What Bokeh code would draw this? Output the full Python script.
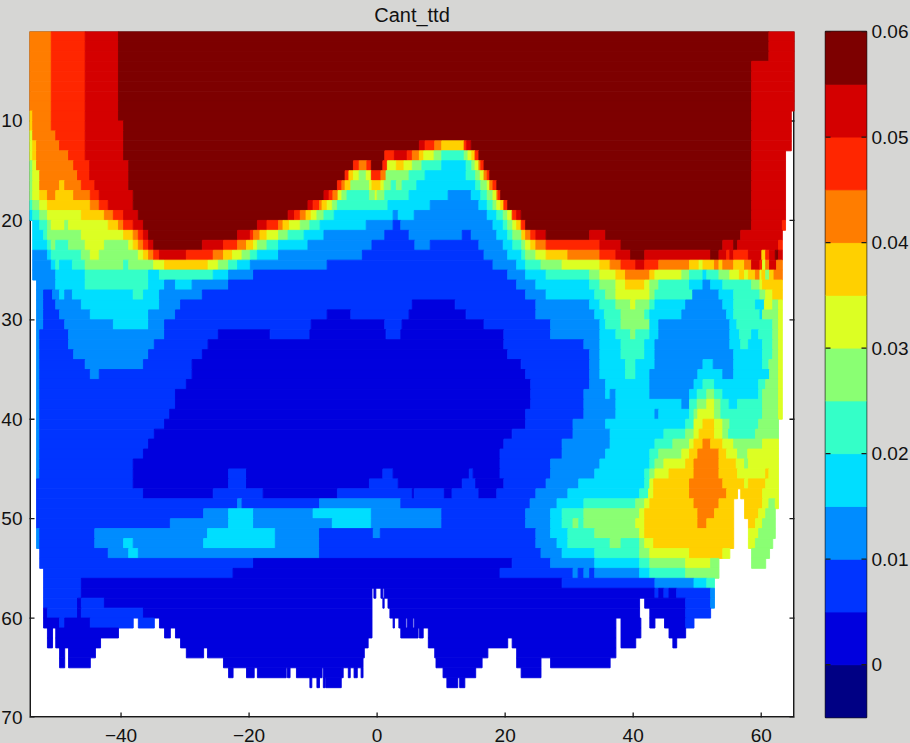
import math
from bokeh.embed import file_html
from bokeh.resources import INLINE
from bokeh.models import ColumnDataSource, Range1d, LinearAxis, FixedTicker
from bokeh.layouts import row
from bokeh.plotting import figure

title_text = "Cant_ttd"
x_ticks = [-40, -20, 0, 20, 40, 60]
y_ticks = [10, 20, 30, 40, 50, 60, 70]
cbar_ticks = [0, 0.01, 0.02, 0.03, 0.04, 0.05, 0.06]
cbar_labels = ["0", "0.01", "0.02", "0.03", "0.04", "0.05", "0.06"]
# colour classes, each 0.005 wide, from -0.005 to 0.06
class_floor = [-0.005, 0.0, 0.005, 0.01, 0.015, 0.02, 0.025, 0.03, 0.035, 0.04, 0.045, 0.05, 0.055]
class_colors = ["#000084", "#0000DE", "#0034FF", "#008CFF", "#00DEFF", "#34FFC8", "#8AFF73",
                "#DCFF23", "#FFD000", "#FF7D00", "#FF2600", "#D40000", "#7D0000"]

# One string per depth level 1..69, "class:east longitude" going eastwards; class 0 here means no data.
top_rows = [
    "9:-50.9 10:-45.6 11:-40.4 12:61.2 11:65.2",
    "9:-50.9 10:-45.6 11:-40.4 12:61.2 11:65.2",
    "9:-50.9 10:-45.6 11:-40.4 12:61.2 11:65.2",
    "9:-50.9 10:-45.6 11:-40.4 12:58.5 11:65.2",
    "9:-50.9 10:-45.6 11:-40.4 12:58.5 11:65.2",
    "9:-50.9 10:-45.6 11:-40.4 12:58.5 11:65.2",
    "9:-50.9 10:-45.6 11:-40.4 12:58.5 11:65.2",
    "9:-50.9 10:-45.6 11:-40.4 12:58.5 11:65.2",
    "8:-53.8 9:-50.9 10:-45.6 11:-40.4 12:58.5 11:64.7",
    "8:-53.8 9:-50.9 10:-45.6 11:-39.6 12:58.5 11:64.7",
    "7:-53.8 9:-50.2 10:-45.6 11:-39.6 12:58.5 11:64.7",
    "7:-53.8 8:-53.2 9:-49.6 10:-45.6 11:-39.6 12:6.6 11:7.5 10:9 9:10.1 8:13.6 10:14 11:14.7 12:58.5 11:64.7",
    "7:-53.8 8:-53.2 9:-48.2 10:-45.6 11:-39.6 12:1.2 10:2.7 11:4.7 10:5.5 9:6.6 8:7.3 7:8.9 6:10.1 5:13.6 6:14.2 7:14.8 8:15.3 10:15.9 12:58.5 11:63.8",
    "6:-53.8 7:-53.2 9:-47.4 10:-44.9 11:-38.8 12:-3.7 10:-2.8 9:-1.6 10:-0.9 12:0.9 10:1.6 7:3 8:4.2 7:5.5 6:7 5:10.1 4:13.9 5:14.8 6:15.3 7:15.9 9:16.2 10:16.7 12:58.5 11:63.8",
    "6:-53.8 7:-52.7 9:-46.8 10:-44.9 11:-38.8 12:-5 10:-4.4 8:-3.7 7:-2.8 6:-1.7 7:-0.9 10:0.6 9:1.4 6:5 5:7.5 4:13.9 5:15.4 6:16.1 7:16.7 9:17.2 10:17.6 12:58.5 11:63.8",
    "6:-53.8 7:-52.7 9:-49.6 8:-48.8 9:-46.2 10:-44.1 11:-38.8 12:-6.2 10:-5.5 9:-5 8:-4.1 6:-1.2 7:-0.8 8:0.6 7:1.1 6:2.2 5:3 6:3.9 5:6.2 4:15.4 5:16.2 6:17.2 7:17.6 9:18.1 10:18.7 12:58.5 11:63.8",
    "6:-53.8 7:-52.7 8:-51.5 9:-50.2 8:-47.4 9:-44.8 10:-43.4 11:-38.1 12:-8.3 11:-7.5 10:-6.9 9:-6.1 7:-5.5 6:-4.7 5:-1.2 6:-0.3 7:0 6:1.2 5:5 4:11.1 3:14.7 4:16.2 5:17.2 6:18.1 7:18.7 9:18.9 10:19.3 12:58.5 11:63.8",
    "5:-53.8 6:-52.7 7:-51.5 8:-44.8 9:-43.4 10:-42 11:-38.1 12:-10.8 11:-10 10:-9 9:-8.6 8:-7.8 7:-7 6:-6.2 5:1.7 4:8.3 3:15.9 4:17.2 5:18.1 6:18.7 7:19.3 8:19.8 10:20.4 12:58.5 11:63.8",
    "4:-53.8 5:-52.7 6:-51.5 7:-46.2 8:-42.6 9:-41.2 10:-39.6 11:-37.3 12:-13.9 11:-12.9 10:-12 9:-11.1 8:-10.3 7:-9.4 6:-8.3 5:-6.7 4:2.5 3:3.3 4:5.8 3:17.2 4:18.7 5:19.7 6:20.4 7:21.1 10:21.8 11:22.5 12:58.5 11:63.8",
    "0:-53.8 4:-52.7 5:-51.5 6:-50.9 7:-48.8 6:-48.2 7:-42 8:-40.4 9:-39.6 10:-38.1 11:-36.5 12:-18.7 11:-17.2 10:-15.4 9:-14.7 8:-13.7 7:-12 6:-10.5 5:-8.9 4:-1.7 3:2.5 2:3.7 3:18.1 4:19.7 5:20.4 6:21.2 7:21.8 8:22.5 10:23.2 12:58.5 11:63.3 10:63.8",
    "0:-53.8 4:-52.1 5:-51.5 6:-46.2 7:-39.6 8:-38.1 9:-37.3 10:-36.5 11:-35.7 12:-21.8 11:-19.8 10:-19.3 9:-18.3 8:-17.2 7:-15.4 6:-13.9 5:-11.4 4:-8.3 3:1.2 2:5 3:13.3 2:14.7 3:18.7 4:20.4 5:21.2 6:22.6 8:23.2 9:24 10:24.8 11:26.4 12:33.2 11:35.7 12:56.8 11:63.3",
    "0:-53.8 4:-51.5 5:-50.9 6:-50.2 5:-48.2 6:-45.6 7:-42.6 6:-38.8 7:-38.1 8:-37.3 9:-36.5 10:-35.7 11:-34.9 12:-27.3 11:-24 10:-21.8 9:-20.4 8:-19.3 7:-18.7 6:-17.2 5:-15.4 4:-10.8 3:-0.8 2:5.9 3:8.3 2:15.9 3:19.7 4:21.2 5:22.6 6:23.2 7:24 8:24.8 9:26.4 10:34.8 11:38.1 12:54 11:55.7 12:56.3 11:62.7 10:63.3",
]
mid_rows = [
    "0:-53.8 3:-51.5 4:-50.9 5:-46.2 6:-44.8 7:-43.4 6:-37.3 7:-36.5 8:-35.7 9:-34.9 10:-34 11:-29.8 10:-25.6 9:-24 8:-22.6 7:-21.1 6:-19.8 5:-18.7 4:-15.4 3:-2.3 2:16.7 3:20.4 4:22.6 5:23.2 6:24.8 7:26.4 8:29.8 9:34.8 10:37.3 11:39.6 12:41.8 11:52.1 12:53.4 11:54.6 10:55.1 11:55.7 10:58 11:60.1 8:60.7 10:61.3 11:62.2 12:62.7 11:63.3",
    "0:-53.8 3:-50.9 4:-50.2 5:-49.6 4:-47.6 5:-45.6 6:-39.6 5:-38.8 6:-34.9 7:-33.2 8:-26.4 7:-24.8 6:-23.2 5:-21.8 4:-19.8 3:-7.8 2:18.1 3:21.8 4:23.2 5:25.6 6:28.9 7:34.8 8:36.4 9:38.1 10:40.4 11:41.8 10:44 9:48.8 8:50.3 7:50.9 8:52.7 9:53.4 8:54 9:55.7 8:57.4 9:58.5 11:59.8 10:60.2 7:60.7 9:61.3 11:62.4 9:63.3",
    "0:-53.8 3:-50.2 4:-45.6 5:-35.7 4:-34 5:-25.6 4:-23.2 3:-19.3 2:20.4 3:23.2 4:26.4 5:33.2 6:34.8 7:37.3 8:38.8 9:42.6 8:43.4 7:47.6 6:48.8 5:50.9 4:51.5 5:53.4 6:55.1 7:56.6 8:57.4 7:58 8:59.1 9:59.8 7:60.1 8:60.7 6:61.3 8:62 9:63.3",
    "0:-53.2 3:-50.2 4:-45.6 5:-35.7 4:-33.2 3:-31.5 4:-28.9 3:-23.2 2:21.8 3:24.8 4:33.2 5:34.8 6:37.3 7:38.8 8:41.8 7:42.6 6:44 5:48.8 4:50.9 3:52.1 4:54 5:58.5 6:59.8 7:60.2 8:63.3",
    "0:-53.2 3:-52.1 2:-50.7 3:-49.6 4:-48.8 3:-47.6 4:-38.1 5:-36.5 4:-34 3:-27.3 2:23.2 3:26.4 4:34 5:35.7 6:37.3 7:42.6 6:43.4 5:49.3 3:53.4 4:55.7 5:59.8 6:60.7 7:61.8 8:63.3",
    "0:-53.2 3:-52.1 2:-50.2 3:-46.2 4:-34 3:-30.7 2:5.5 1:12.2 2:24.8 3:33.2 4:34.8 5:37.3 6:39.6 7:40.4 6:42.6 5:43.4 4:48.2 3:54 4:55.7 5:59.1 4:60.5 7:61.8 6:62.7 7:63.3",
    "0:-53.2 3:-52.1 2:-49.6 3:-44.8 4:-35.7 3:-31.5 2:-7.8 1:-4.1 2:5 1:13.9 2:24.8 3:34 4:35.5 5:38.1 6:41.8 5:42.6 4:47.6 3:54.6 4:55.7 5:59.8 4:60.2 6:62.7 7:63.3",
    "0:-53.2 3:-52.1 2:-48.8 3:-41.2 4:-35.7 3:-33.2 2:-10.3 1:1.2 2:3.9 1:16.7 2:27.1 3:34.8 4:35.7 5:38.1 6:42.6 4:44 3:55.1 4:56.2 5:61.8 6:62.7 7:63.3",
    "0:-53.2 3:-52.7 2:-48.2 3:-33.2 2:-24.8 1:-16.7 2:-10.5 1:1.4 2:3.7 1:19.8 2:27.1 3:34.8 4:37.3 5:39.6 6:40.4 5:42.6 4:44 3:55.1 4:56.6 5:58.5 4:59.6 5:61.8 6:62.7 7:63.3",
    "0:-53.2 3:-52.7 2:-48.2 3:-34.8 2:-26.4 1:19.8 2:32.3 3:34.8 4:38.1 5:41.8 4:43.4 3:55.1 4:56.8 5:58 4:60.2 5:61.8 6:62.7 7:63.3",
    "0:-53.2 3:-52.7 2:-47.4 3:-35.7 2:-27.3 1:20.4 2:33.2 3:34.8 4:38.1 5:41.8 4:43.4 3:55.7 4:60.2 5:61.8 6:62.7 7:63.3",
    "0:-53.2 3:-52.7 2:-45.6 3:-36.5 2:-28.9 1:22.5 2:33.2 3:34.8 4:38.8 5:40.4 4:43.4 3:50.9 4:52.5 3:55.7 4:60.2 5:61.2 6:62.7 7:63.3",
    "0:-53.2 3:-52.7 2:-44.8 3:-43.4 2:-28.9 1:23.2 2:33.2 3:34.8 4:38.8 5:40.4 4:42.6 3:50.1 4:54 3:55.7 4:61.3 6:62.7 7:63.3",
    "0:-53.2 3:-52.7 2:-29.8 1:24 2:33.2 3:35.7 4:42.6 3:49.5 4:50.9 5:52.7 4:59.6 5:60.7 6:62.7 7:63.3",
    "0:-53.2 3:-52.7 2:-31.5 1:24 2:32.3 3:35.7 4:36.4 3:37.3 4:42.6 3:48.8 4:50 5:51.5 6:52.7 5:54 4:59.6 5:60.2 6:62.7 7:63.3",
    "0:-53.2 3:-52.7 2:-31.5 1:24 2:32.3 3:37.3 4:47.6 3:48.8 5:50 6:51.5 7:52.7 6:53.7 5:55 4:56.3 5:60.2 6:62.7 7:63.3",
    "0:-53.2 3:-52.7 2:-32.4 1:23.2 2:32.3 3:37.3 4:43.4 3:44 4:48.8 5:49.5 6:50.1 7:52.7 6:53.7 5:60.2 6:62.7 7:63.3",
    "0:-53.2 3:-52.7 2:-33.2 1:23.2 2:30.6 3:35.7 4:48.2 5:49.5 7:50.9 8:52.7 7:54 6:55.1 5:59.6 6:62.7",
    "0:-53.2 3:-52.7 2:-34.8 1:21.1 2:30.6 3:36.4 4:44.8 5:48.2 6:49.5 7:50.3 8:52.7 7:54 6:54.9 5:59.1 6:62.7",
    "0:-53.2 3:-52.7 2:-35.7 1:19.8 2:28.9 3:36.4 4:43.4 5:46.2 6:48.8 7:49.5 8:50.9 9:52.1 8:54 7:55.7 6:60.2 7:62.7",
    "0:-53.2 3:-52.7 2:-36.5 1:19.2 2:28.9 3:35.7 4:42.6 5:44 6:47.6 7:48.8 8:50.1 9:53.4 8:54.6 7:56.3 6:57.9 7:62.7",
    "0:-53.2 3:-52.7 2:-38.1 1:19.2 2:27.1 3:34.8 4:42.6 5:43.4 6:44.8 7:48.2 8:49.5 9:53.4 8:56.1 7:57.4 6:58 7:62.7",
    "0:-53.2 3:-52.7 2:-38.1 1:-23.2 2:-20.4 1:0.9 2:2.5 1:14.4 2:15 1:19.2 2:27.1 3:34 4:41.8 5:42.6 6:43.4 7:45.6 8:49.5 9:53.4 8:56.3 7:60.7 8:61.2 7:62.7",
]
low_rows = [
    "0:-53.2 2:-38.1 1:-23.2 2:-20.4 1:-1.2 2:3.3 1:13.3 2:15.4 1:19.8 2:26.4 3:31.5 4:41.8 5:42.6 7:43.2 8:48.8 9:54 8:57.4 7:58 8:60.7 7:62.7",
    "0:-53.2 2:-36.5 1:-25.6 2:-17.8 1:-6.2 2:5.5 1:5.8 2:10.5 1:11.7 2:15.9 1:18.7 2:24.8 3:29.8 4:41 5:42.4 7:43.2 8:48.8 9:54.6 8:56.3 0:56.8 8:60.2 7:62.7",
    "0:-53.2 2:-21.8 3:-21.1 2:-9 3:3.7 2:23.9 3:28.1 4:32.3 5:40.4 6:41.8 7:42.6 8:49.5 9:53.4 8:55.7 0:57.4 8:60.2 7:61.2 6:62.2 7:62.7",
    "0:-53.2 2:-27.1 3:-23.2 4:-19.3 3:-10 4:-0.9 3:10.1 2:23.2 3:27.1 4:28.9 5:32.3 6:41 7:41.8 8:50.1 9:52.7 8:55.7 0:57.4 8:59.6 7:60.7 6:62.2",
    "0:-53.2 2:-32.3 3:-23.2 4:-19.3 3:-7 4:-0.9 3:10.1 2:23.2 3:27.1 4:28.9 5:30.6 6:31.5 5:32.3 6:40.4 7:41.8 8:50.1 9:51.5 8:55.7 0:58 8:59.1 7:60.2 6:62.2",
    "0:-53.2 3:-52.7 2:-44.1 3:-26.5 4:-15.9 3:-9 2:-0.6 3:0.5 2:24.8 3:27.1 4:29.8 5:34 6:41 7:41.8 8:55.7 0:58 7:59.6 6:62.2",
    "0:-53.2 3:-52.7 2:-44.1 3:-39.6 4:-38.1 3:-27.1 4:-15.9 3:-9 2:24.8 3:28.1 4:29.8 5:36.4 6:38.1 5:41 6:41.8 7:43.2 8:55.7 0:58 7:59.1 6:61.8",
    "0:-52.7 2:-42 3:-38.8 4:-37.3 3:-9 2:25.6 3:28.9 4:34 5:41 6:42.6 7:48.8 8:54 7:55.1 0:58.5 6:61.3",
    "0:-52.7 2:-19.3 1:21.1 2:27.1 3:34 4:41 5:42.6 6:48.2 7:52.1 6:53.4 0:58.5 6:60.7",
    "0:-52.1 2:-22.5 1:19.2 2:30.6 3:31.4 2:32.3 3:33.2 2:34 3:41 4:42.6 5:48.2 6:53.4",
    "0:-52.1 2:-46.2 1:28.9 2:43.4 3:49.5 4:51.5 5:52.7",
    "0:-52.1 2:-46.2 1:-0.8 0:-0.5 1:-0.2 0:0.6 1:0.9 0:1.1 1:43.4 2:44 1:44.8 2:45.6 1:46.8 2:52.1 3:52.7",
    "0:-52.1 2:-46.8 1:-46.2 2:-42.6 1:-0.8 0:0.9 1:1.1 0:1.7 1:41 0:41.8 1:48.2 2:52.1 3:52.7",
    "0:-52.1 1:-51.5 2:-46.8 1:-46.2 2:-36.5 1:-0.8 0:2 1:41 0:42.6 1:48.2 2:52.1",
    "0:-52.1 1:-49.6 2:-48.8 1:-44.8 2:-38.1 0:-37.3 2:-34.8 0:-34 1:-0.8 0:2.5 1:2.7 0:3.4 1:4.5 0:4.7 1:5.6 0:5.8 1:37.3 0:38.1 1:41.2 0:42.6 1:43.4 0:44.9 1:48.2 2:49.5",
    "0:-51.5 1:-50.7 0:-50.2 1:-40.4 0:-33.2 1:-32.3 0:-31.5 1:-0.8 0:3.7 1:6.4 0:6.6 1:7.2 0:8 1:37.3 0:38.1 1:41.2 0:45.6 1:48.2",
    "0:-51.5 1:-50.7 0:-50.2 1:-43.2 0:-30.7 1:-1.4 0:8 1:20.4 0:21.1 1:37.3 0:38.1 1:40.4 0:46.2 1:46.8",
    "0:-49.6 1:-48.8 0:-48.2 1:-44 0:-29.8 1:-27.1 0:-26.5 1:-2 0:9 1:17.3 0:21.8 1:37.3",
    "0:-49.6 1:-48.8 0:-48.2 1:-44.8 0:-24 1:-2.2 0:9.2 1:16.4 0:21.8 1:25.6 0:27.1 1:36.4",
    "0:-23.2 1:-22.5 0:-20.4 1:-19.2 0:-18.7 1:-14.2 0:-14 1:-13.6 0:-12.6 1:-8.6 0:-8.4 1:-5.3 0:-4.5 1:-4.2 0:-3.6 1:-3.1 0:-2.5 1:-2.2 0:10.3 1:15.4 0:22.5 1:25.6",
    "0:-10.5 1:-10.2 0:-9.4 1:-9 0:-8.4 1:-8.1 0:-8 1:-5.6 0:10.9 1:12.6 0:12.9 1:13.7",
]
west_edge, east_edge = -54.3, 65.2
depth_start, depth_end = 1, 70

BG = "#D6D6D4"
INK = "#1A1A1A"
TEXT = "#111111"
FONT = "Liberation Sans"
H = 763
BORDER_TOP = 41
BORDER_BOTTOM = 36

left, right, top, bottom, color = [], [], [], [], []
for level, text in enumerate(top_rows + mid_rows + low_rows, start=1):
    west = west_edge
    for run in text.split():
        cls, east = run.split(":")
        cls, east = int(cls), float(east)
        if cls:
            left.append(west); right.append(east)
            top.append(level); bottom.append(level + 1)
            color.append(class_colors[cls])
        west = east

p = figure(width=802, height=H, output_backend="svg", toolbar_location=None,
           x_range=Range1d(west_edge, east_edge), y_range=Range1d(depth_end, depth_start),
           min_border_left=31, min_border_right=6, min_border_top=BORDER_TOP, min_border_bottom=BORDER_BOTTOM,
           background_fill_color="white", border_fill_color=BG, outline_line_color=None)
p.grid.visible = False

# frame and inward ticks lie under the data, as in the reference; the clipping at the frame halves them
p.quad(left=west_edge, right=east_edge, top=depth_start, bottom=depth_end, fill_color=None,
       line_color=INK, line_width=3, level="underlay")
p.scatter(x=[west_edge] * len(y_ticks) + [east_edge] * len(y_ticks), y=y_ticks + y_ticks, marker="dash", size=10,
          line_color=INK, line_width=1.3, level="underlay")
p.scatter(x=x_ticks, y=[depth_end] * len(x_ticks), marker="dash", size=10, angle=math.pi / 2,
          line_color=INK, line_width=1.3, level="underlay")

p.quad(left="left", right="right", top="top", bottom="bottom", fill_color="color", line_color="color",
       line_width=0.9, source=ColumnDataSource(dict(left=left, right=right, top=top, bottom=bottom, color=color)))


def labels_only(ax, ticks, labels, standoff):
    ax.ticker = FixedTicker(ticks=ticks)
    ax.axis_line_color = None
    ax.major_tick_line_color = None
    ax.minor_tick_line_color = None
    ax.major_tick_in = 0
    ax.major_tick_out = 0
    ax.major_label_text_font = FONT
    ax.major_label_text_font_size = "19px"
    ax.major_label_text_color = TEXT
    ax.major_label_standoff = standoff
    ax.major_label_overrides = labels


labels_only(p.xaxis[0], x_ticks, {t: str(t).replace("-", "\u2212") for t in x_ticks}, 11)
labels_only(p.yaxis[0], y_ticks, {t: str(t) for t in y_ticks}, 7)
p.title.text = title_text
p.title.align = "center"
p.title.text_font = FONT
p.title.text_font_size = "20px"
p.title.text_font_style = "normal"
p.title.text_color = TEXT
p.title.standoff = 11

cb = figure(width=112, height=H, output_backend="svg", toolbar_location=None,
            x_range=Range1d(0, 1), y_range=Range1d(class_floor[0], class_floor[-1] + 0.005),
            min_border_left=25, min_border_right=46, min_border_top=BORDER_TOP, min_border_bottom=BORDER_BOTTOM,
            background_fill_color=BG, border_fill_color=BG,
            outline_line_color=INK, outline_line_width=1.5)
cb.grid.visible = False
cb.xaxis.visible = False
cb.yaxis.visible = False
cb.quad(left=0, right=1, bottom=class_floor, top=[f + 0.005 for f in class_floor], fill_color=class_colors,
        line_color=class_colors, line_width=0.9)
cb.scatter(x=[0] * len(cbar_ticks) + [1] * len(cbar_ticks), y=cbar_ticks + cbar_ticks, marker="dash", size=10,
           line_color=INK, line_width=1.3)
cb_r = LinearAxis()
cb.add_layout(cb_r, "right")
labels_only(cb_r, cbar_ticks, dict(zip(cbar_ticks, cbar_labels)), 5)

layout = row(p, cb, spacing=0, styles={"position": "absolute", "left": "-2px", "top": "-10px", "background-color": BG})
html = file_html(layout, INLINE).replace("<head>", "<head><style>html,body{overflow:hidden}</style>", 1)
open("out.html", "w").write(html)
